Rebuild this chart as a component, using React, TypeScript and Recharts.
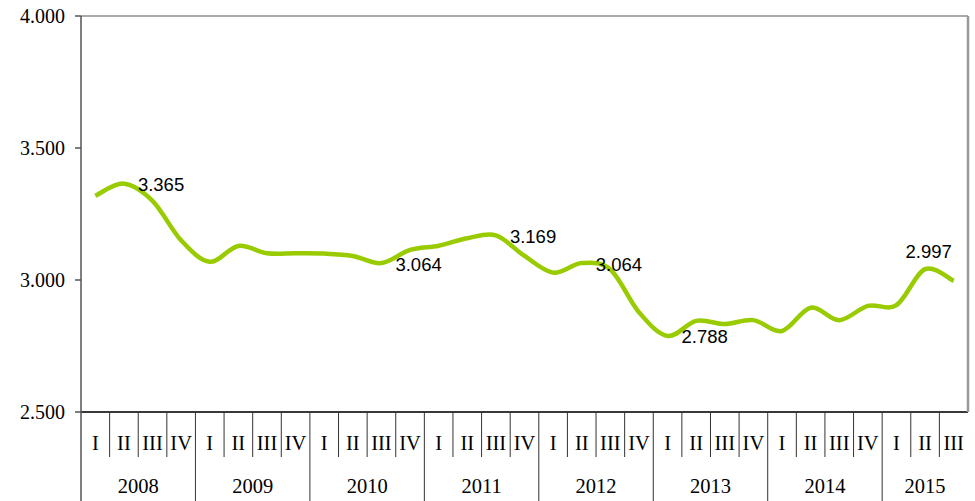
import React from 'react';
import { ComposedChart, Line, XAxis, YAxis, CartesianGrid, ReferenceLine, LabelList } from 'recharts';

const years = ['2008', '2009', '2010', '2011', '2012', '2013', '2014', '2015'];
const quartersInYear = [4, 4, 4, 4, 4, 4, 4, 3];
const quarterNames = ['I', 'II', 'III', 'IV'];
const values = [
  3319, 3365, 3300, 3150,
  3069, 3129, 3101, 3101,
  3100, 3091, 3064, 3114,
  3130, 3158, 3169, 3091,
  3028, 3064, 3040, 2878,
  2788, 2845, 2833, 2848,
  2807, 2895, 2848, 2902,
  2905, 3041, 2997,
];
const labeledIndices = [1, 10, 14, 17, 20, 30];
const yTicks = [2500, 3000, 3500, 4000];

const W = 975;
const H = 501;
const LEFT = 81;
const RIGHT = 7;
const PLOT_W = W - LEFT - RIGHT;

type Row = { key: string; q: string; year: string; qi: number; yi: number; value: number };
const data: Row[] = [];
{
  let k = 0;
  years.forEach((y, yi) => {
    for (let qi = 0; qi < quartersInYear[yi]; qi++) {
      data.push({ key: `${y}-${quarterNames[qi]}`, q: quarterNames[qi], year: y, qi, yi, value: values[k] });
      k++;
    }
  });
}
const BW = PLOT_W / data.length;

const fmt = (v: number) => {
  const t = Math.floor(v / 1000);
  const r = String(Math.round(v) % 1000).padStart(3, '0');
  return `${t}.${r}`;
};

function excelCurve(context: any) {
  const pts: number[][] = [];
  return {
    areaStart() {},
    areaEnd() {},
    lineStart() { pts.length = 0; },
    point(x: number, y: number) { pts.push([+x, +y]); },
    lineEnd() {
      if (!pts.length) return;
      context.moveTo(pts[0][0], pts[0][1]);
      for (let i = 0; i < pts.length - 1; i++) {
        const p0 = pts[i - 1] || pts[i];
        const p1 = pts[i];
        const p2 = pts[i + 1];
        const p3 = pts[i + 2] || pts[i + 1];
        context.bezierCurveTo(
          p1[0] + (p2[0] - p0[0]) / 6, p1[1] + (p2[1] - p0[1]) / 6,
          p2[0] - (p3[0] - p1[0]) / 6, p2[1] - (p3[1] - p1[1]) / 6,
          p2[0], p2[1]
        );
      }
    },
  };
}

const SERIF = '"Liberation Serif", "Times New Roman", serif';
const SANS = '"Liberation Sans", Arial, sans-serif';
const AXIS_FS = 20.5;

const CategoryTick = (props: any) => {
  const { x, y, index } = props;
  const row = data[index];
  if (!row) return null;
  const n = quartersInYear[row.yi];
  const isYearEnd = row.qi === n - 1;
  const isLast = index === data.length - 1;
  const els: React.ReactNode[] = [];
  els.push(
    <text key="q" x={x} y={y + 31} textAnchor="middle" dominantBaseline="central" fontFamily={SERIF} fontSize={AXIS_FS} fill="#000">
      {row.q}
    </text>
  );
  if (!isLast) {
    els.push(
      <line key="s" x1={x + BW / 2} x2={x + BW / 2} y1={y} y2={y + (isYearEnd ? 89 : 45)} stroke="#333" strokeWidth={1} />
    );
  }
  if (row.qi === 0) {
    const cx = x - BW / 2 + (n * BW) / 2;
    els.push(
      <text key="y" x={cx} y={y + 74} textAnchor="middle" dominantBaseline="central" fontFamily={SERIF} fontSize={AXIS_FS} fill="#000">
        {row.year}
      </text>
    );
  }
  if (index === 0) {
    els.push(<line key="l" x1={x - BW / 2} x2={x - BW / 2} y1={y} y2={y + 89} stroke="#555" strokeWidth={1.5} />);
  }
  return <g>{els}</g>;
};

const ValueLabel = (props: any) => {
  const { x, y, value, index } = props;
  if (!labeledIndices.includes(index)) return null;
  let tx = x + 14;
  let ty = y + 1;
  let anchor: 'start' | 'middle' = 'start';
  if (index === data.length - 1) {
    tx = x - 25;
    ty = y - 29;
    anchor = 'middle';
  }
  return (
    <text x={tx} y={ty} textAnchor={anchor} dominantBaseline="central" fontFamily={SANS} fontSize={18.5} fill="#000">
      {fmt(value)}
    </text>
  );
};

export default function App() {
  return (
    <div style={{ position: 'absolute', left: 0, top: 0, width: W, height: H, background: '#fff' }}>
      <ComposedChart width={W} height={H} data={data} margin={{ top: 16, right: 0, bottom: 0, left: 0 }}>
        <CartesianGrid horizontal vertical={false} stroke="#c0c0c0" strokeWidth={1} />
        <XAxis
          dataKey="key"
          interval={0}
          height={89}
          tickLine={false}
          tickSize={0}
          tickMargin={0}
          padding={{ left: BW / 2, right: BW / 2 }}
          axisLine={{ stroke: '#000', strokeWidth: 1.5 }}
          tick={<CategoryTick />}
        />
        <YAxis
          yAxisId="left"
          width={LEFT}
          domain={[2500, 4000]}
          ticks={yTicks}
          tickSize={6}
          tickMargin={10}
          tickFormatter={fmt}
          tick={{ fontFamily: SERIF, fontSize: 20, fill: '#000' }}
          tickLine={{ stroke: '#555', strokeWidth: 1.5 }}
          axisLine={{ stroke: '#555', strokeWidth: 1.5 }}
          allowDataOverflow
        />
        <YAxis
          yAxisId="right"
          orientation="right"
          width={RIGHT}
          domain={[2500, 4000]}
          tick={false}
          tickLine={false}
          axisLine={{ stroke: '#999', strokeWidth: 2.5 }}
        />
        <ReferenceLine yAxisId="left" y={4000} stroke="#999" strokeWidth={1.5} />
        <Line
          yAxisId="left"
          dataKey="value"
          type={excelCurve as any}
          stroke="#99CC00"
          strokeWidth={4.5}
          dot={false}
          activeDot={false}
          isAnimationActive={false}
        >
          <LabelList dataKey="value" content={<ValueLabel />} />
        </Line>
      </ComposedChart>
    </div>
  );
}
